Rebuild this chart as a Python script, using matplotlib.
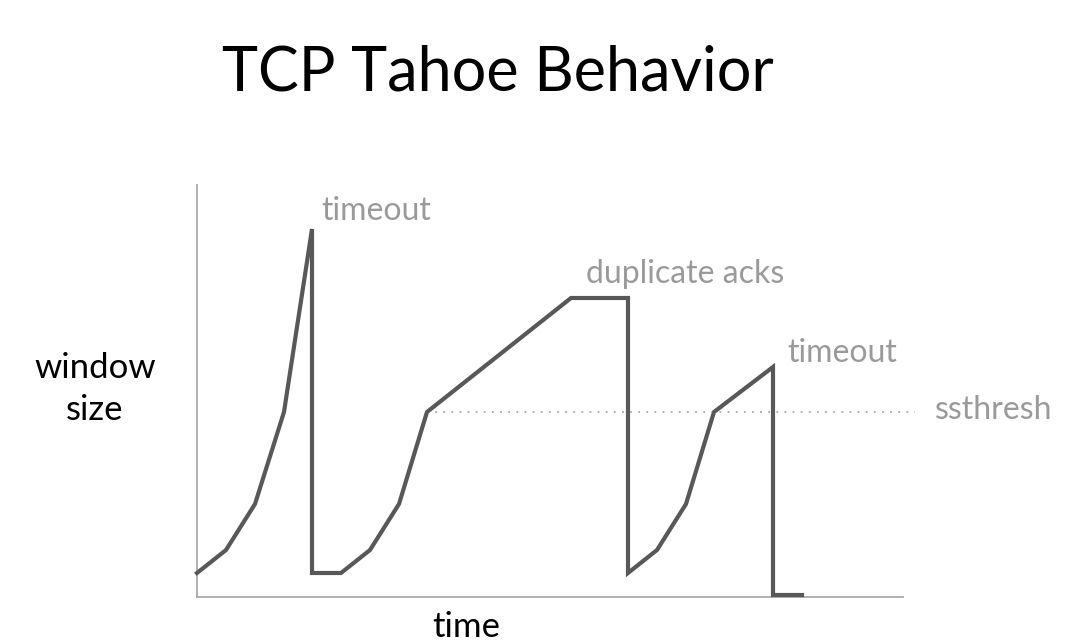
import matplotlib.pyplot as plt

# 窗口大小随时间变化（坐标读自原图）
t = [0, 29, 58, 87, 115, 115, 144, 173, 202, 230, 374, 431, 431,
     460, 489, 517, 576, 576, 605]
cwnd = [24, 47, 93, 185, 368, 24, 24, 47, 93, 185, 299, 299, 24,
        47, 93, 185, 230, 2, 2]
ssthresh = 185
ssthresh_span = [230, 718]

events = [('timeout', 124, 386), ('duplicate acks', 389, 323),
          ('timeout', 590, 244)]

plt.rcParams['font.family'] = ['Lato', 'DejaVu Sans']

fig = plt.figure(figsize=(10.7, 6.42), dpi=100)
ax = fig.add_axes([197 / 1070, 1 - 597 / 642, 706 / 1070, 412 / 642])

ax.plot(t, cwnd, color='#585858', linewidth=3.0, solid_joinstyle='miter',
        clip_on=False, zorder=3)
ax.plot(ssthresh_span, [ssthresh, ssthresh], color='#aaaaaa',
        linestyle=(0, (1, 3.5)), linewidth=1.3, clip_on=False)

grey = '#9a9a9a'
for label, x, y in events:
    ax.text(x, y, label, color=grey, fontsize=23, ha='left', va='center',
            clip_on=False)
ax.text(738, ssthresh + 2, 'ssthresh', color=grey, fontsize=23,
        ha='left', va='center', clip_on=False)

ax.set_xlim(0, 706)
ax.set_ylim(0, 412)
ax.set_xticks([])
ax.set_yticks([])
for side in ['top', 'right']:
    ax.spines[side].set_visible(False)
for side in ['left', 'bottom']:
    ax.spines[side].set_color('#aaaaaa')
    ax.spines[side].set_linewidth(1.3)

fig.text(95 / 1070, 1 - 389 / 642, 'window\nsize', fontsize=25,
         ha='center', va='center', linespacing=1.35)
fig.text(466 / 1070, 1 - 627 / 642, 'time', fontsize=25,
         ha='center', va='center')
fig.text(498 / 1070, 1 - 73 / 642, 'TCP Tahoe Behavior', fontsize=44,
         ha='center', va='center')

plt.savefig('out.png', dpi=100)
